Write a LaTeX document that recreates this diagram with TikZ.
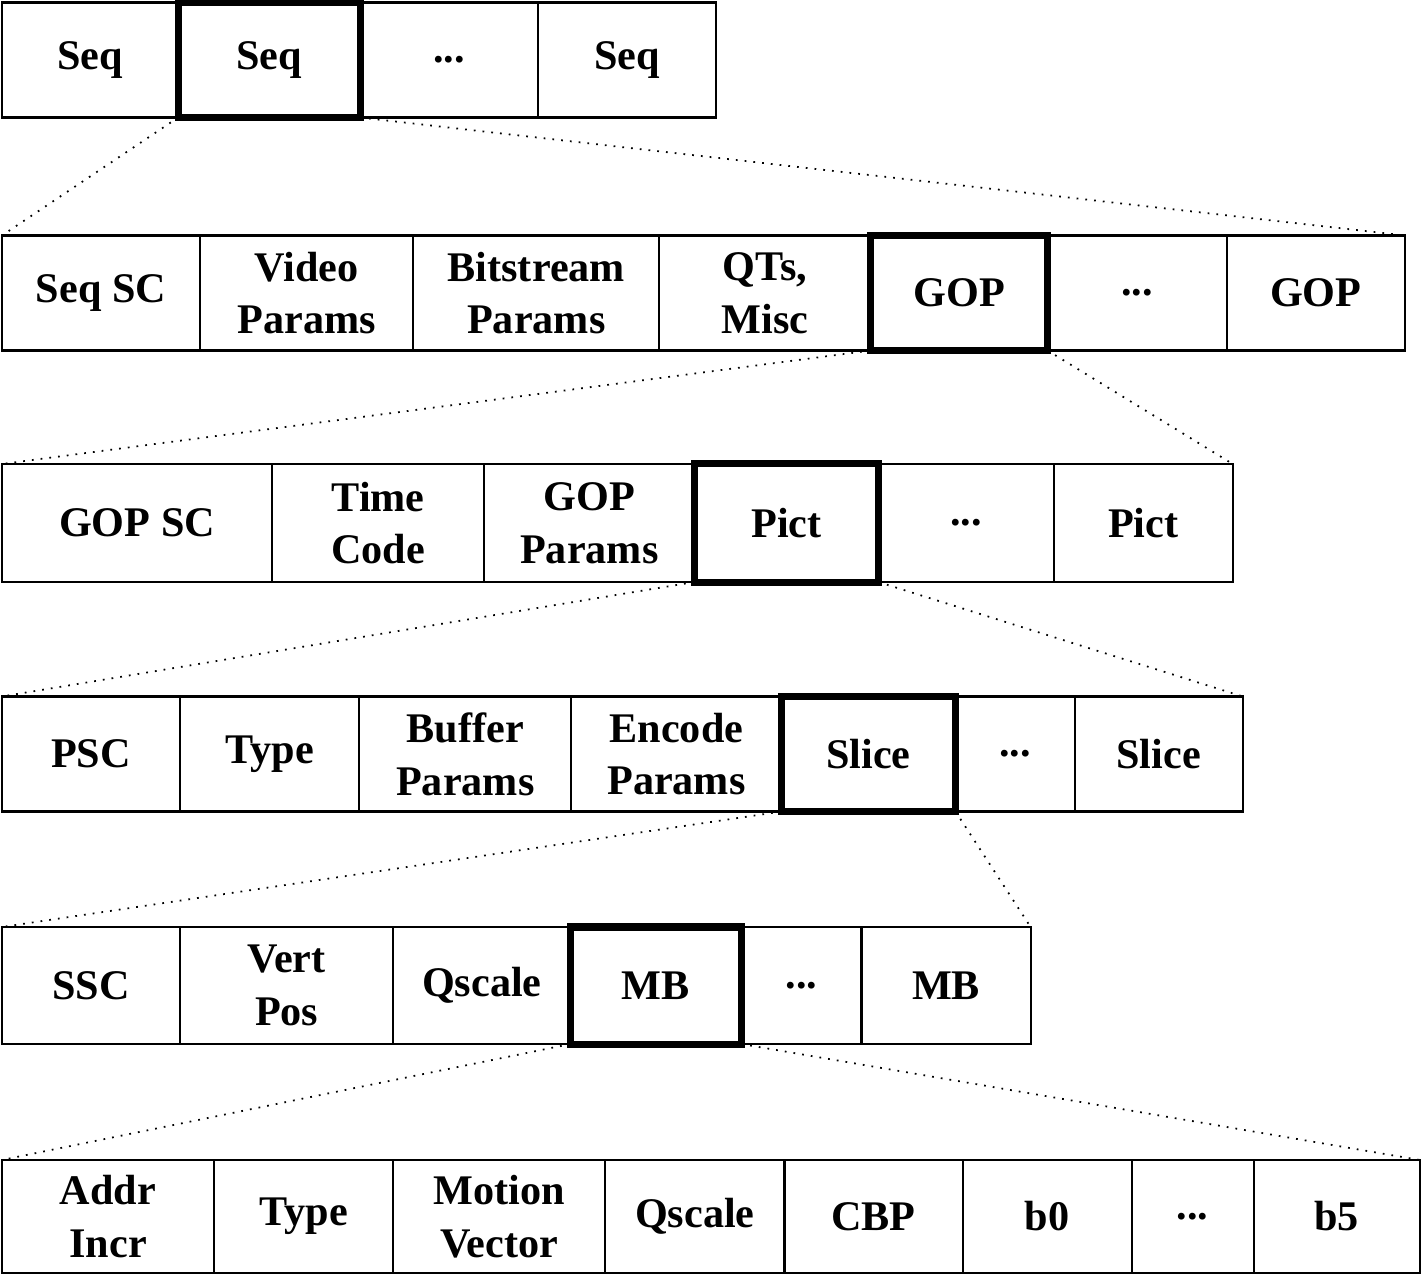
\documentclass[tikz,border=0pt]{standalone}
\usepackage{fontspec}
\setmainfont{Liberation Serif}
\usetikzlibrary{positioning}
\tikzset{
    cell/.style={draw, line width=0.6pt, minimum width=#1, minimum height=1.15cm,
        inner sep=0pt, outer sep=0pt, align=center,
        font=\fontsize{12}{15}\selectfont\bfseries},
    sel/.style={cell=#1, line width=2pt},
    zoomline/.style={dotted, line width=0.5pt}
}

\begin{document}
\begin{tikzpicture}[x=0.01cm, y=-0.01cm]
\useasboundingbox (0,0) rectangle (1421,1275);

% sequence layer
\node[cell=1.76cm, anchor=west] (seqA) at (2,60) {Seq};
\node[sel=1.82cm, right=0pt of seqA] (seqB) {Seq};
\node[cell=1.78cm, right=0pt of seqB] (seqdots) {...};
\node[cell=1.78cm, right=0pt of seqdots] (seqC) {Seq};

% sequence header + GOPs
\node[cell=1.98cm, anchor=west] (seqsc) at (2,293) {Seq SC};
\node[cell=2.13cm, right=0pt of seqsc] (vidpar) {Video\\Params};
\node[cell=2.46cm, right=0pt of vidpar] (bitpar) {Bitstream\\Params};
\node[cell=2.11cm, right=0pt of bitpar] (qts) {QTs,\\Misc};
\node[sel=1.77cm, right=0pt of qts] (gopA) {GOP};
\node[cell=1.79cm, right=0pt of gopA] (gopdots) {...};
\node[cell=1.78cm, right=0pt of gopdots] (gopB) {GOP};

% GOP layer
\node[cell=2.70cm, minimum height=1.18cm, anchor=west] (gopsc) at (2,523) {GOP SC};
\node[cell=2.12cm, minimum height=1.18cm, right=0pt of gopsc] (timecode) {Time\\Code};
\node[cell=2.10cm, minimum height=1.18cm, right=0pt of timecode] (goppar) {GOP\\Params};
\node[sel=1.84cm, minimum height=1.18cm, right=0pt of goppar] (pictA) {Pict};
\node[cell=1.75cm, minimum height=1.18cm, right=0pt of pictA] (pictdots) {...};
\node[cell=1.79cm, minimum height=1.18cm, right=0pt of pictdots] (pictB) {Pict};

% picture layer
\node[cell=1.78cm, anchor=west] (psc) at (2,754) {PSC};
\node[cell=1.79cm, right=0pt of psc] (ptype) {Type};
\node[cell=2.12cm, right=0pt of ptype] (bufpar) {Buffer\\Params};
\node[cell=2.10cm, right=0pt of bufpar] (encpar) {Encode\\Params};
\node[sel=1.74cm, right=0pt of encpar] (sliceA) {Slice};
\node[cell=1.19cm, right=0pt of sliceA] (slicedots) {...};
\node[cell=1.68cm, right=0pt of slicedots] (sliceB) {Slice};

% slice layer
\node[cell=1.78cm, minimum height=1.17cm, anchor=west] (ssc) at (2,985.5) {SSC};
\node[cell=2.13cm, minimum height=1.17cm, right=0pt of ssc] (vertpos) {Vert\\Pos};
\node[cell=1.77cm, minimum height=1.17cm, right=0pt of vertpos] (sqscale) {Qscale};
\node[sel=1.71cm, minimum height=1.17cm, right=0pt of sqscale] (mbA) {MB};
\node[cell=1.20cm, minimum height=1.17cm, right=0pt of mbA] (mbdots) {...};
\node[cell=1.69cm, minimum height=1.17cm, right=0pt of mbdots] (mbB) {MB};

% macroblock layer
\node[cell=2.12cm, minimum height=1.13cm, anchor=west] (addr) at (2,1216.5) {Addr\\Incr};
\node[cell=1.79cm, minimum height=1.13cm, right=0pt of addr] (mbtype) {Type};
\node[cell=2.12cm, minimum height=1.13cm, right=0pt of mbtype] (motion) {Motion\\Vector};
\node[cell=1.79cm, minimum height=1.13cm, right=0pt of motion] (mbqscale) {Qscale};
\node[cell=1.78cm, minimum height=1.13cm, right=0pt of mbqscale] (cbp) {CBP};
\node[cell=1.69cm, minimum height=1.13cm, right=0pt of cbp] (bzero) {b0};
\node[cell=1.22cm, minimum height=1.13cm, right=0pt of bzero] (bdots) {...};
\node[cell=1.66cm, minimum height=1.13cm, right=0pt of bdots] (bfive) {b5};

% zoom lines
\draw[zoomline] (seqB.south west) -- (seqsc.north west);
\draw[zoomline] (seqB.south east) -- (gopB.north east);
\draw[zoomline] (gopA.south west) -- (gopsc.north west);
\draw[zoomline] (gopA.south east) -- (pictB.north east);
\draw[zoomline] (pictA.south west) -- (psc.north west);
\draw[zoomline] (pictA.south east) -- (sliceB.north east);
\draw[zoomline] (sliceA.south west) -- (ssc.north west);
\draw[zoomline] (sliceA.south east) -- (mbB.north east);
\draw[zoomline] (mbA.south west) -- (addr.north west);
\draw[zoomline] (mbA.south east) -- (bfive.north east);
\end{tikzpicture}
\end{document}
